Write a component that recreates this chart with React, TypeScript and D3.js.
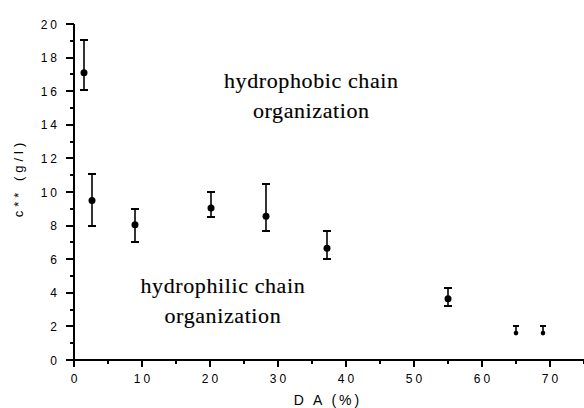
import React, { useEffect, useRef } from 'react'
import * as d3 from 'd3'

// DA (%) and c** (g/l) with error bar ends
const da = [1.5, 2.6, 8.9, 20.2, 28.3, 37.2, 55, 65, 69]
const cStar = [17.1, 9.5, 8.05, 9.05, 8.55, 6.65, 3.65, 1.6, 1.6]
const errLow = [16.05, 8.0, 7.0, 8.5, 7.7, 6.0, 3.2, 1.5, 1.5]
const errHigh = [19.05, 11.05, 9.0, 10.0, 10.5, 7.7, 4.3, 2.0, 2.0]

const xTicks = [0, 10, 20, 30, 40, 50, 60, 70]
const yTicks = [0, 2, 4, 6, 8, 10, 12, 14, 16, 18, 20]

const notes = [
  { lines: ['hydrophobic chain', 'organization'], x: 34.9, y: 16.2 },
  { lines: ['hydrophilic chain', 'organization'], x: 21.9, y: 4.0 },
]

export default function App() {
  const ref = useRef<SVGSVGElement>(null)

  useEffect(() => {
    const svg = d3.select(ref.current)
    svg.selectAll('*').remove()

    const x = d3.scaleLinear().domain([0, 75.8]).range([74, 589.4])
    const y = d3.scaleLinear().domain([0, 20]).range([360, 24])
    const rx = (v: number) => Math.round(x(v))
    const ry = (v: number) => Math.round(y(v))

    const sans = 'Arial, "Liberation Sans", sans-serif'
    const serif = '"Times New Roman", "Liberation Serif", serif'

    // axes lines
    svg.append('line')
      .attr('x1', rx(0) - 1).attr('x2', 584)
      .attr('y1', ry(0)).attr('y2', ry(0))
      .attr('stroke', '#000').attr('stroke-width', 2)
    svg.append('line')
      .attr('x1', rx(0)).attr('x2', rx(0))
      .attr('y1', ry(0)).attr('y2', ry(20))
      .attr('stroke', '#000').attr('stroke-width', 2)

    // x ticks
    const xMinor = d3.range(0, 76, 5)
    svg.append('g').selectAll('line')
      .data(xMinor)
      .enter()
      .append('line')
        .attr('x1', d => rx(d)).attr('x2', d => rx(d))
        .attr('y1', ry(0)).attr('y2', d => ry(0) + (d % 10 === 0 ? 7 : 4))
        .attr('stroke', '#000').attr('stroke-width', 2)
    svg.append('g').selectAll('text')
      .data(xTicks)
      .enter()
      .append('text')
        .attr('x', d => x(d) + 1.5)
        .attr('y', 383)
        .attr('text-anchor', 'middle')
        .style('font-family', sans)
        .style('font-size', '12px')
        .style('letter-spacing', '3px')
        .text(d => d)

    // y ticks
    const yMinor = d3.range(0, 21, 1)
    svg.append('g').selectAll('line')
      .data(yMinor)
      .enter()
      .append('line')
        .attr('x1', rx(0)).attr('x2', d => rx(0) - (d % 2 === 0 ? 8 : 4))
        .attr('y1', d => ry(d)).attr('y2', d => ry(d))
        .attr('stroke', '#000').attr('stroke-width', 2)
    svg.append('g').selectAll('text')
      .data(yTicks)
      .enter()
      .append('text')
        .attr('x', 60)
        .attr('y', d => y(d) + 4.5)
        .attr('text-anchor', 'end')
        .style('font-family', sans)
        .style('font-size', '12px')
        .style('letter-spacing', '3px')
        .text(d => d)

    // axis titles
    svg.append('text')
      .attr('x', 328)
      .attr('y', 405)
      .attr('text-anchor', 'middle')
      .style('font-family', sans)
      .style('font-size', '14px')
      .style('letter-spacing', '3px')
      .text('D A (%)')
    svg.append('text')
      .attr('transform', 'translate(23, 178) rotate(-90)')
      .attr('text-anchor', 'middle')
      .style('font-family', sans)
      .style('font-size', '13px')
      .style('letter-spacing', '4px')
      .text('c** (g/l)')

    // error bars + points
    const pts = svg.append('g')
    da.forEach((d, i) => {
      const cx = rx(d)
      const small = cStar[i] < 3
      const cap = small ? 3 : 4
      const r = small ? 2.3 : 3.5
      pts.append('line')
        .attr('x1', cx).attr('x2', cx)
        .attr('y1', y(errLow[i])).attr('y2', y(errHigh[i]))
        .attr('stroke', '#000').attr('stroke-width', 1.6)
      ;[errLow[i], errHigh[i]].forEach(v => {
        if (Math.abs(y(v) - y(cStar[i])) <= r + 1) return
        pts.append('line')
          .attr('x1', cx - cap).attr('x2', cx + cap)
          .attr('y1', ry(v)).attr('y2', ry(v))
          .attr('stroke', '#000').attr('stroke-width', 2)
      })
      pts.append('circle')
        .attr('cx', cx).attr('cy', y(cStar[i]))
        .attr('r', r)
        .attr('fill', '#000')
    })

    // annotations
    notes.forEach(n => {
      n.lines.forEach((t, j) => {
        svg.append('text')
          .attr('x', x(n.x))
          .attr('y', y(n.y) + j * 30)
          .attr('text-anchor', 'middle')
          .style('font-family', serif)
          .style('font-size', '22px')
          .style('letter-spacing', '0.6px')
          .style('stroke', '#000')
          .style('stroke-width', 0.15)
          .text(t)
      })
    })
  }, [])

  return (
    <svg
      ref={ref}
      width={584}
      height={408}
      style={{ position: 'absolute', left: 0, top: 0, background: '#fff' }}
    />
  )
}
